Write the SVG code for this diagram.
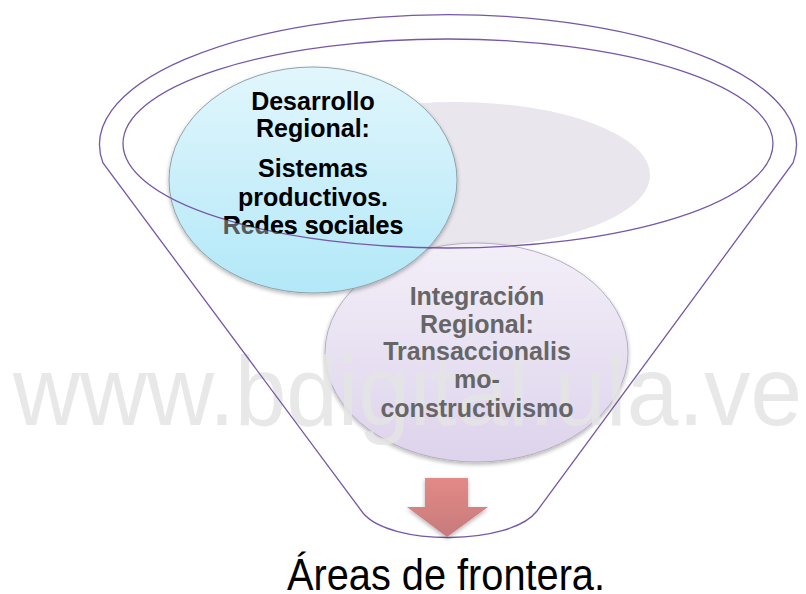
<svg xmlns="http://www.w3.org/2000/svg" width="806" height="594" viewBox="0 0 806 594">
<defs>
<style>
.funnel{fill:none;stroke:#7657a8;stroke-width:1.3}
.t1{font-family:"Liberation Sans",Arial,sans-serif;font-weight:bold;font-size:25px;text-anchor:middle}
.t2{font-family:"Liberation Sans",Arial,sans-serif;font-weight:bold;font-size:25px;text-anchor:middle;fill:#666666}
.wm{font-family:"Liberation Sans",Arial,sans-serif;font-size:98px;fill:#e4e4e4;fill-opacity:0.85}
.big{font-family:"Liberation Sans",Arial,sans-serif;font-size:44px;fill:#000}
</style>
<linearGradient id="gBlue" x1="0" y1="0" x2="0" y2="1">
<stop offset="0" stop-color="#e2f6fc"/>
<stop offset="1" stop-color="#b2e8f8"/>
</linearGradient>
<linearGradient id="gPurple" x1="0" y1="0" x2="0" y2="1">
<stop offset="0" stop-color="#f3eff8"/>
<stop offset="1" stop-color="#ddd3ec"/>
</linearGradient>
<linearGradient id="gArrow" x1="0" y1="0" x2="0" y2="1">
<stop offset="0" stop-color="#e38a87"/>
<stop offset="1" stop-color="#c77a7c"/>
</linearGradient>
<filter id="sh" x="-10%" y="-10%" width="120%" height="125%">
<feGaussianBlur in="SourceAlpha" stdDeviation="2"/>
<feOffset dx="0" dy="2" result="b"/>
<feComponentTransfer><feFuncA type="linear" slope="0.3"/></feComponentTransfer>
<feMerge><feMergeNode/><feMergeNode in="SourceGraphic"/></feMerge>
</filter>
<clipPath id="inner"><ellipse cx="448" cy="143.5" rx="325" ry="104.5"/></clipPath>
</defs>
<rect width="806" height="594" fill="#ffffff"/>

<g id="node-top">
<ellipse cx="455" cy="175" rx="195" ry="73" fill="#e9e6ee"/>
</g>

<g id="node-integracion">
<ellipse cx="476.5" cy="352.5" rx="151.5" ry="109.5" fill="url(#gPurple)" stroke="#b5aebf" stroke-width="1" filter="url(#sh)"/>
</g>

<g id="node-desarrollo">
<ellipse cx="313" cy="180" rx="144" ry="113" fill="url(#gBlue)" stroke="#8fa3a8" stroke-width="1" filter="url(#sh)"/>
</g>

<text class="wm" x="13" y="425" textLength="789" lengthAdjust="spacingAndGlyphs">www.bdigital.ula.ve</text>

<g id="connectors">
<path class="funnel" d="M103,163 A348.5,130 0 1 1 793,163 L537,511 C510,546 390,546 363,513 Z"/>
<ellipse class="funnel" cx="448" cy="143.5" rx="325" ry="104.5"/>
<path d="M425,478 H468 V507 H488 L447,537 L407,507 H425 Z" fill="url(#gArrow)" filter="url(#sh)"/>
</g>

<g id="text-desarrollo">
<text class="t1" x="313" y="110">Desarrollo</text>
<text class="t1" x="313" y="137">Regional:</text>
<text class="t1" x="313" y="177">Sistemas</text>
<text class="t1" x="313" y="206">productivos.</text>
<text class="t1" x="313" y="234" fill="#5a5a5a">Redes sociales</text>
<text class="t1" x="313" y="234" clip-path="url(#inner)">Redes sociales</text>
</g>

<g id="text-integracion">
<text class="t2" x="477" y="305">Integración</text>
<text class="t2" x="477" y="333">Regional:</text>
<text class="t2" x="477" y="360">Transaccionalis</text>
<text class="t2" x="477" y="388">mo-</text>
<text class="t2" x="477" y="417">constructivismo</text>
</g>

<g id="label-areas">
<text class="big" x="287" y="590" textLength="318" lengthAdjust="spacingAndGlyphs">Áreas de frontera.</text>
</g>
</svg>
